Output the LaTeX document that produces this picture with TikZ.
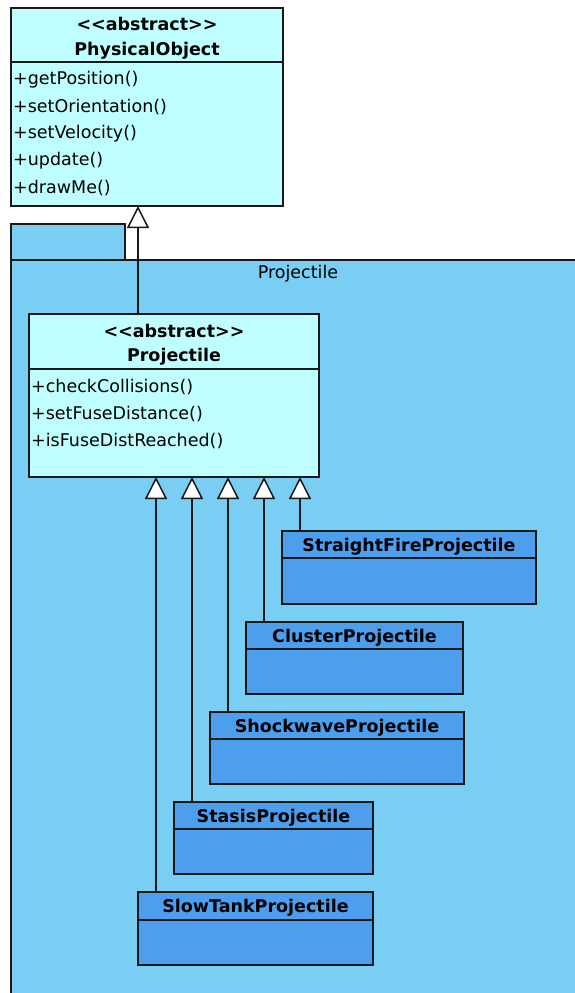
\documentclass[tikz,border=0pt]{standalone}
\usepackage{fontspec}
\setmainfont{DejaVu Sans}
\usetikzlibrary{arrows.meta}
\definecolor{pkgblue}{RGB}{122,206,244}
\definecolor{absfill}{RGB}{192,255,255}
\definecolor{clsfill}{RGB}{78,158,238}
\definecolor{edge}{RGB}{25,25,25}

% class frame: name, x1, y1, x2, y2, y of compartment line, fill
\newcommand{\umlframe}[7]{%
  \node[box, fill=#7, minimum width={#4-#2}, minimum height={#5-#3}, anchor=north west] (#1) at (#2,#3) {};
  \draw[box] (#2,#6) -- (#4,#6);}
% stereotype text, kept as plain angle brackets
\newcommand{\abstractst}{\mbox{<}\mbox{<}abstract\mbox{>}\mbox{>}}

\begin{document}
\begin{tikzpicture}[x=1pt,y=-1pt,
  box/.style={draw=edge, line width=1.5pt, inner sep=0pt, outer sep=0pt},
  pkg/.style={draw=edge, line width=1.5pt, fill=pkgblue},
  title/.style={font=\fontsize{17.5}{20}\selectfont\bfseries, inner sep=0pt, yshift=-2pt},
  meth/.style={font=\fontsize{17.5}{20}\selectfont, anchor=west, inner sep=0pt},
  inh/.style={draw=edge, line width=1.5pt, -{Triangle[open, length=22pt, width=22pt, fill=white]}}]
\clip (0,0) rectangle (575,993);
\fill[white] (0,0) rectangle (575,993);

% package frame with its tab
\draw[pkg] (11,224) rectangle (125,260);
\draw[pkg] (11,260) rectangle (600,1020);
\node[meth, anchor=center] (pkglabel) at (298,274) {Projectile};

% PhysicalObject
\umlframe{po}{11}{8}{283}{206}{62}{absfill}
\node[title] (po-st) at (147,22) {\abstractst};
\node[title] (po-nm) at (147,49) {PhysicalObject};
\node[meth] (po-m1) at (13,80) {+getPosition()};
\node[meth] (po-m2) at (13,107) {+setOrientation()};
\node[meth] (po-m3) at (13,134) {+setVelocity()};
\node[meth] (po-m4) at (13,161) {+update()};
\node[meth] (po-m5) at (13,188) {+drawMe()};

% Projectile
\umlframe{proj}{29}{314}{319}{477}{369}{absfill}
\node[title] (pr-st) at (174,329) {\abstractst};
\node[title] (pr-nm) at (174,355) {Projectile};
\node[meth] (pr-m1) at (31,387) {+checkCollisions()};
\node[meth] (pr-m2) at (31,414) {+setFuseDistance()};
\node[meth] (pr-m3) at (31,441) {+isFuseDistReached()};

% concrete projectiles
\umlframe{straight}{282}{531}{536}{604}{558}{clsfill}
\node[title] (straight-nm) at (409,545) {StraightFireProjectile};
\umlframe{cluster}{246}{622}{463}{694}{649}{clsfill}
\node[title] (cluster-nm) at (354.5,636) {ClusterProjectile};
\umlframe{shock}{210}{712}{464}{784}{739}{clsfill}
\node[title] (shock-nm) at (337,726) {ShockwaveProjectile};
\umlframe{stasis}{174}{802}{373}{874}{829}{clsfill}
\node[title] (stasis-nm) at (273.5,816) {StasisProjectile};
\umlframe{slow}{138}{892}{373}{965}{920}{clsfill}
\node[title] (slow-nm) at (255.5,906) {SlowTankProjectile};

% generalisations
\coordinate (g0) at (138,0);
\coordinate (g1) at (156,0);
\coordinate (g2) at (192,0);
\coordinate (g3) at (228,0);
\coordinate (g4) at (264,0);
\coordinate (g5) at (300,0);
\draw[inh] (proj.north -| g0) -- (po.south -| g0);
\draw[inh] (slow.north -| g1) -- (proj.south -| g1);
\draw[inh] (stasis.north -| g2) -- (proj.south -| g2);
\draw[inh] (shock.north -| g3) -- (proj.south -| g3);
\draw[inh] (cluster.north -| g4) -- (proj.south -| g4);
\draw[inh] (straight.north -| g5) -- (proj.south -| g5);
\end{tikzpicture}
\end{document}
